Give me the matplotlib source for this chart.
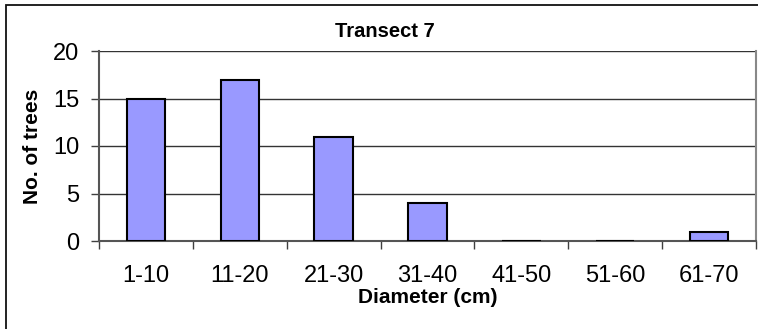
import matplotlib.pyplot as plt
from matplotlib.patches import Rectangle

plt.rcParams['font.family'] = ['Liberation Sans', 'DejaVu Sans']

classes = ['1-10', '11-20', '21-30', '31-40', '41-50', '51-60', '61-70']
trees = [15, 17, 11, 4, 0, 0, 1]

fig = plt.figure(figsize=(7.58, 3.29), dpi=100)
# chart area frame (runs off the right and bottom edges)
fig.patches.append(Rectangle((6 / 758, -10 / 329), 800 / 758, 334 / 329,
                             transform=fig.transFigure, fill=False,
                             edgecolor='#111111', linewidth=1.3))

ax = fig.add_axes([99 / 758, 1 - 241 / 329, 657 / 758, 190 / 329])
x = range(len(classes))
ax.bar(x, trees, width=0.41, color='#9999FF', edgecolor='black',
       linewidth=1.5, zorder=3)

ax.set_xlim(-0.5, len(classes) - 0.5)
ax.set_ylim(0, 20)
ax.set_yticks([0, 5, 10, 15, 20])
ax.set_xticks([i - 0.5 for i in range(len(classes) + 1)], minor=False)
ax.set_xticklabels([])
ax.set_xticks(list(x), minor=True)
ax.set_xticklabels(classes, minor=True)
ax.tick_params(axis='x', which='minor', length=0, pad=17, labelsize=17)
ax.tick_params(axis='x', which='major', direction='out', length=6,
               color='#404040', width=1)
ax.tick_params(axis='y', direction='out', length=6, color='#404040',
               width=1, labelsize=17, pad=8)

ax.grid(axis='y', color='#333333', linewidth=1, zorder=0)
ax.spines['top'].set_visible(False)
ax.spines['left'].set_color('#555555')
ax.spines['bottom'].set_color('#555555')
ax.spines['right'].set_color('#888888')
for s in ax.spines.values():
    s.set_linewidth(1.5)

fig.text(385 / 758, 1 - 37 / 329, 'Transect 7', fontsize=14.5,
         fontweight='bold', ha='center', va='baseline')
ax.set_xlabel('Diameter (cm)', fontsize=15, fontweight='bold', labelpad=1)
ax.set_ylabel('No. of trees', fontsize=15, fontweight='bold', labelpad=8)

fig.savefig('out.png', dpi=100)
